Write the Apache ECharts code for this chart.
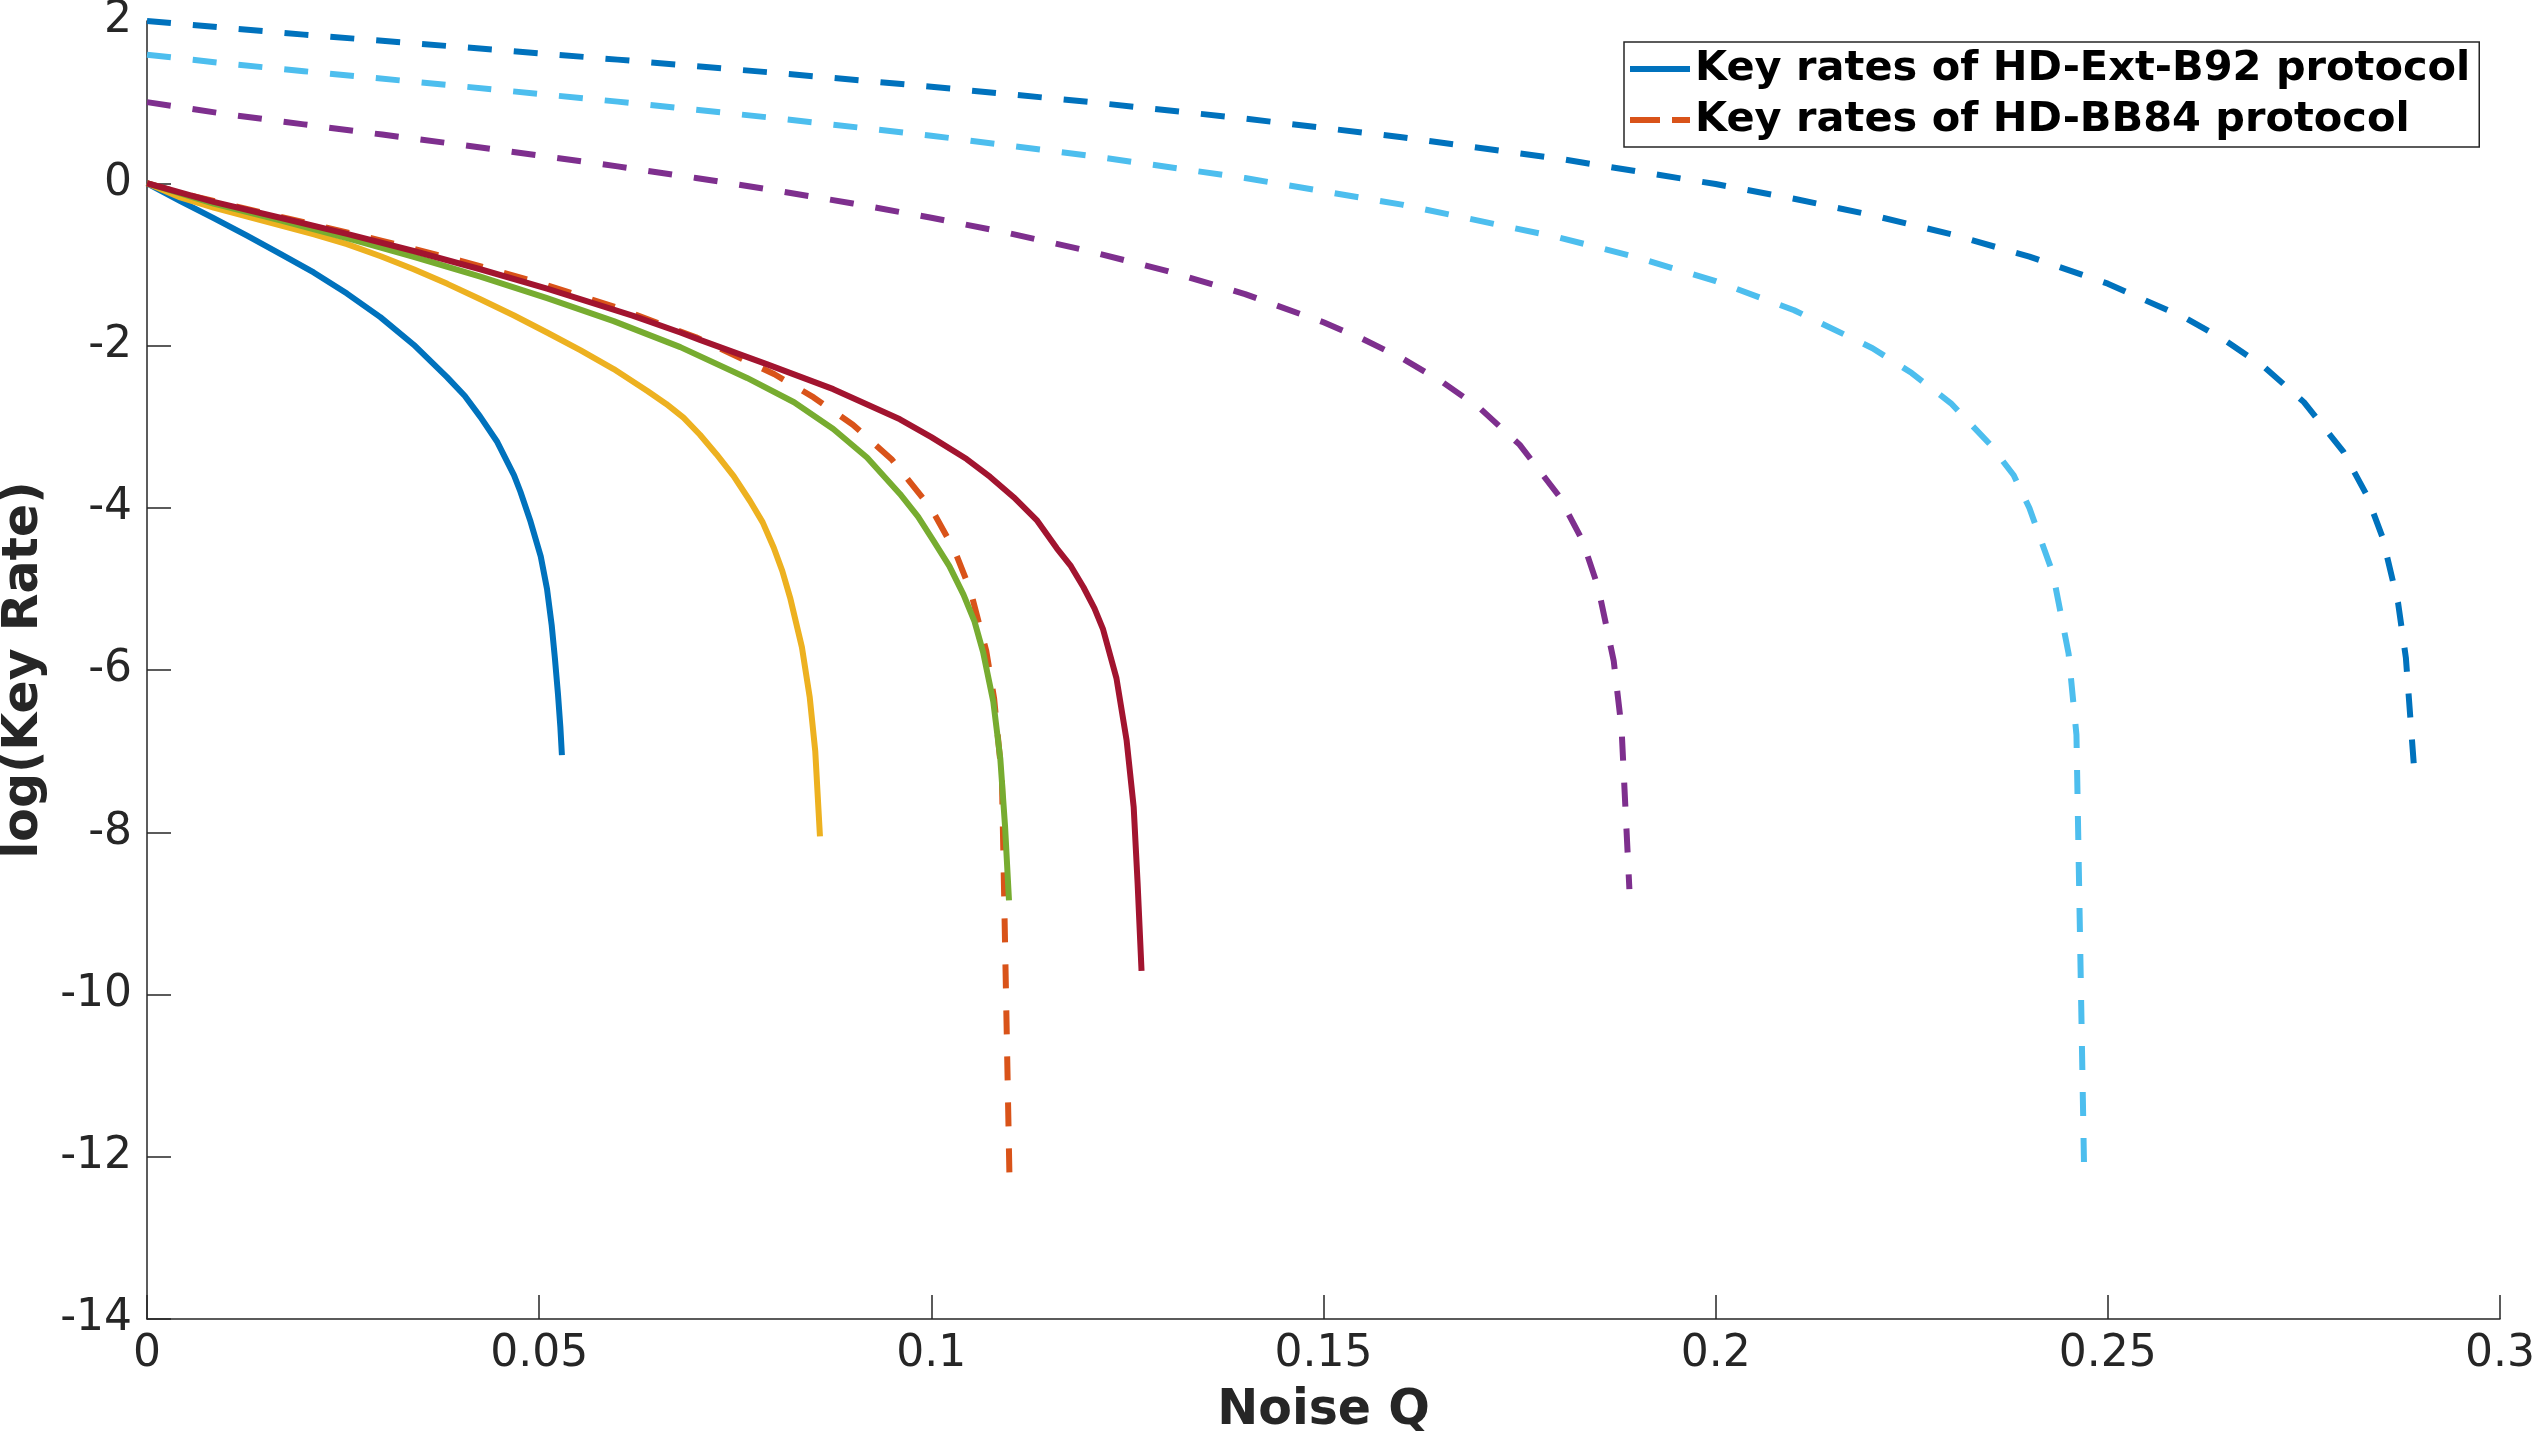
<!DOCTYPE html>
<html>
<head>
<meta charset="utf-8">
<script src="https://cdn.jsdelivr.net/npm/echarts@6/dist/echarts.min.js"></script>
<style>
html,body{margin:0;padding:0;background:#fff;}
#chart{width:2532px;height:1446px;}
</style>
</head>
<body>
<div id="chart"></div>
<script>
// ---- Data (Noise Q, log2 key rate) ----
const extB92_a = [[0,0],[0.00425,-0.22],[0.0085,-0.43],[0.01275,-0.645],[0.017,-0.87],[0.02125,-1.1],[0.0255,-1.36],[0.02975,-1.65],[0.034,-1.99],[0.03825,-2.39],[0.0405,-2.62],[0.0425,-2.88],[0.0446,-3.18],[0.0468,-3.6],[0.0476,-3.8],[0.0489,-4.17],[0.0502,-4.6],[0.051,-5.0],[0.0516,-5.45],[0.052,-5.85],[0.0524,-6.3],[0.0527,-6.7],[0.0529,-7.05]];
const bb84_a   = [[0,0],[0.005,-0.137],[0.01,-0.254],[0.02,-0.48],[0.03,-0.71],[0.04,-0.956],[0.05,-1.227],[0.06,-1.535],[0.07,-1.899],[0.08,-2.354],[0.085,-2.64],[0.09,-2.976],[0.095,-3.409],[0.1,-4.011],[0.103,-4.534],[0.105,-5.025],[0.107,-5.764],[0.108,-6.347],[0.109,-7.33],[0.11,-12.45]];
const extB92_b = [[0,0],[0.00425,-0.175],[0.0085,-0.3],[0.0128,-0.41],[0.017,-0.52],[0.0213,-0.63],[0.0255,-0.75],[0.0298,-0.9],[0.034,-1.06],[0.0383,-1.24],[0.0425,-1.43],[0.0468,-1.63],[0.051,-1.84],[0.0553,-2.06],[0.0595,-2.29],[0.0638,-2.56],[0.0662,-2.72],[0.0684,-2.89],[0.0705,-3.1],[0.0726,-3.34],[0.0748,-3.61],[0.0769,-3.92],[0.0785,-4.18],[0.0799,-4.49],[0.081,-4.78],[0.082,-5.11],[0.0835,-5.72],[0.0845,-6.34],[0.0852,-7.0],[0.0858,-8.05]];
const bb84_b   = [[0,1],[0.01,0.853],[0.02,0.726],[0.03,0.6],[0.04,0.474],[0.05,0.343],[0.06,0.208],[0.07,0.065],[0.08,-0.086],[0.09,-0.249],[0.1,-0.425],[0.11,-0.618],[0.12,-0.834],[0.13,-1.08],[0.14,-1.367],[0.15,-1.714],[0.155,-1.92],[0.16,-2.157],[0.165,-2.44],[0.17,-2.779],[0.175,-3.222],[0.18,-3.852],[0.183,-4.4],[0.185,-4.976],[0.187,-5.886],[0.188,-6.718],[0.189,-8.7]];
const extB92_c = [[0,0],[0.0085,-0.25],[0.017,-0.457],[0.0255,-0.675],[0.034,-0.906],[0.0425,-1.15],[0.051,-1.416],[0.0595,-1.7],[0.068,-2.02],[0.0765,-2.4],[0.0825,-2.7],[0.0875,-3.03],[0.0918,-3.38],[0.096,-3.83],[0.0983,-4.11],[0.1003,-4.41],[0.1023,-4.72],[0.1041,-5.07],[0.1055,-5.4],[0.1066,-5.78],[0.1079,-6.39],[0.1088,-7.1],[0.1094,-7.93],[0.1099,-8.84]];
const bb84_c   = [[0,1.585],[0.01,1.476],[0.02,1.381],[0.04,1.196],[0.06,1.006],[0.08,0.804],[0.1,0.586],[0.12,0.342],[0.14,0.064],[0.16,-0.264],[0.18,-0.668],[0.19,-0.915],[0.2,-1.207],[0.21,-1.565],[0.22,-2.033],[0.225,-2.34],[0.23,-2.712],[0.235,-3.221],[0.238,-3.6],[0.24,-4.004],[0.243,-4.811],[0.245,-5.8],[0.246,-6.8],[0.247,-12.3]];
const extB92_d = [[0,0],[0.0085,-0.23],[0.017,-0.425],[0.0255,-0.625],[0.034,-0.835],[0.0425,-1.06],[0.051,-1.3],[0.062,-1.634],[0.068,-1.84],[0.0705,-1.93],[0.079,-2.23],[0.0875,-2.538],[0.096,-2.91],[0.1,-3.13],[0.1045,-3.4],[0.1075,-3.62],[0.1105,-3.87],[0.1135,-4.16],[0.116,-4.5],[0.1178,-4.72],[0.1194,-4.98],[0.1208,-5.24],[0.1219,-5.5],[0.1236,-6.1],[0.1249,-6.87],[0.1258,-7.69],[0.1263,-8.63],[0.1268,-9.71]];
const bb84_d   = [[0,2],[0.02,1.832],[0.04,1.679],[0.06,1.524],[0.08,1.362],[0.1,1.19],[0.12,1.003],[0.14,0.797],[0.16,0.567],[0.18,0.303],[0.2,-0.01],[0.21,-0.191],[0.22,-0.395],[0.23,-0.628],[0.24,-0.904],[0.25,-1.238],[0.26,-1.667],[0.265,-1.94],[0.27,-2.27],[0.275,-2.698],[0.28,-3.304],[0.283,-3.843],[0.285,-4.359],[0.287,-5.17],[0.288,-5.85],[0.289,-7.15]];

const legendNames = ['Key rates of HD-Ext-B92 protocol', 'Key rates of HD-BB84 protocol'];
const xTicks = {min: 0, max: 0.3, interval: 0.05};
const yTicks = {min: -14, max: 2, interval: 2};

// ---- Series definitions (MATLAB default color order) ----
const seriesDefs = [
  {name: legendNames[0], data: extB92_a, color: '#0072BD', dashed: false},
  {name: legendNames[1], data: bb84_a,   color: '#D95319', dashed: true},
  {name: 's3', data: extB92_b, color: '#EDB120', dashed: false},
  {name: 's4', data: bb84_b,   color: '#7E2F8E', dashed: true},
  {name: 's5', data: extB92_c, color: '#77AC30', dashed: false},
  {name: 's6', data: bb84_c,   color: '#4DBEEE', dashed: true},
  {name: 's7', data: extB92_d, color: '#A2142F', dashed: false},
  {name: 's8', data: bb84_d,   color: '#0072BD', dashed: true}
];

const FONT = 'DejaVu Sans';
const AX = '#262626';

const chart = echarts.init(document.getElementById('chart'), null, {renderer: 'canvas'});
chart.setOption({
  backgroundColor: '#ffffff',
  animation: false,
  grid: {left: 147, right: 32, top: 21, bottom: 127, containLabel: false, outerBoundsMode: 'none'},
  xAxis: {
    type: 'value', min: xTicks.min, max: xTicks.max, interval: xTicks.interval,
    name: 'Noise Q', nameLocation: 'middle', nameGap: 68,
    nameTextStyle: {fontFamily: FONT, fontSize: 49, fontWeight: 'bold', color: AX},
    axisLine: {show: true, onZero: false, lineStyle: {color: AX, width: 1.5}},
    axisTick: {show: true, inside: true, length: 24, lineStyle: {color: AX, width: 1.5}},
    axisLabel: {fontFamily: FONT, fontSize: 44, color: AX, margin: 14},
    splitLine: {show: false}
  },
  yAxis: {
    type: 'value', min: yTicks.min, max: yTicks.max, interval: yTicks.interval,
    name: 'log(Key Rate)', nameLocation: 'middle', nameGap: 95, nameRotate: 90,
    nameTextStyle: {fontFamily: FONT, fontSize: 49, fontWeight: 'bold', color: AX},
    axisLine: {show: true, onZero: false, lineStyle: {color: AX, width: 1.5}},
    axisTick: {show: true, inside: true, length: 24, lineStyle: {color: AX, width: 1.5}},
    axisLabel: {fontFamily: FONT, fontSize: 44, color: AX, margin: 15},
    splitLine: {show: false}
  },
  legend: {
    orient: 'vertical', left: 1624, top: 42,
    padding: [5, 9, 5, 6], itemGap: 7,
    itemWidth: 60, itemHeight: 14,
    borderColor: AX, borderWidth: 1.5, backgroundColor: '#ffffff',
    textStyle: {fontFamily: FONT, fontSize: 41.5, fontWeight: 'bold', color: '#000', lineHeight: 44},
    data: [
      {name: legendNames[0], icon: 'path://M0,0L60,0L60,6L0,6Z', itemStyle: {color: '#0072BD'}},
      {name: legendNames[1], icon: 'path://M0,0L30,0L30,6L0,6ZM42,0L60,0L60,6L42,6Z', itemStyle: {color: '#D95319'}}
    ]
  },
  series: seriesDefs.map(s => ({
    name: s.name,
    type: 'line',
    data: s.data,
    showSymbol: false,
    symbol: 'none',
    smooth: false,
    clip: true,
    lineStyle: {color: s.color, width: 6, type: s.dashed ? [24, 22] : 'solid', join: 'round', cap: 'butt'},
    itemStyle: {color: s.color},
    emphasis: {disabled: true}
  }))
});
</script>
</body>
</html>
